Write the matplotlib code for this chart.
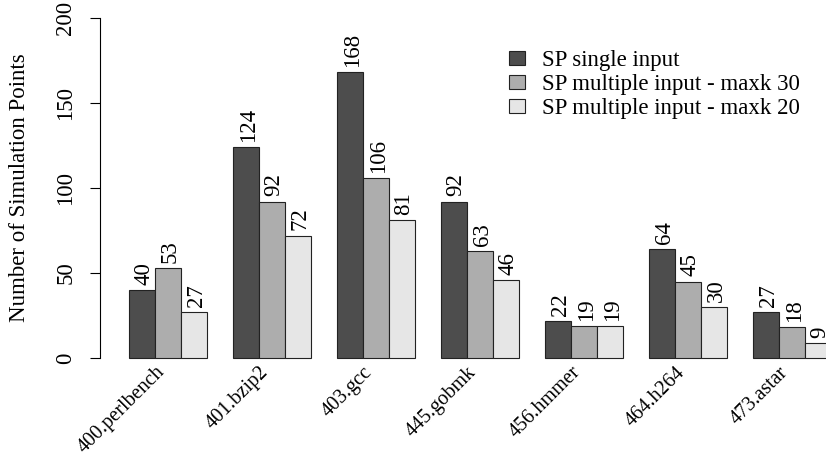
import numpy as np
import matplotlib
matplotlib.use("Agg")
import matplotlib.pyplot as plt

plt.rcParams['font.family'] = ['Liberation Serif', 'DejaVu Serif']

# data
benchmarks = ["400.perlbench", "401.bzip2", "403.gcc", "445.gobmk",
              "456.hmmer", "464.h264", "473.astar"]
series_names = ["SP single input", "SP multiple input - maxk 30",
                "SP multiple input - maxk 20"]
sp_single = [40, 124, 168, 92, 22, 64, 27]
sp_maxk30 = [53, 92, 106, 63, 19, 45, 18]
sp_maxk20 = [27, 72, 81, 46, 19, 30, 9]
colors = ["#4d4d4d", "#adadad", "#e6e6e6"]

FS = 16.5
W, H = 826, 459
fig = plt.figure(figsize=(W / 100, H / 100), dpi=100)
# axes placed in pixels: y-axis at x=100, y=0 at 358px, y=200 at 18px
ax = fig.add_axes([100 / W, (H - 358) / H, (W - 100) / W, 340 / H])

# R-style beside barplot: each bar 1 unit wide, 1 unit gap between groups
n = len(benchmarks)
group_left = 1 + 4 * np.arange(n)
for j, vals in enumerate([sp_single, sp_maxk30, sp_maxk20]):
    xs = group_left + j
    ax.bar(xs, vals, width=1, align='edge', color=colors[j],
           edgecolor='#222222', linewidth=0.8, label=series_names[j],
           clip_on=False)
    for x, v in zip(xs, vals):
        ax.text(x + 0.58, v + 3, str(v), rotation=90, ha='center',
                va='bottom', fontsize=FS, clip_on=False)

ax.set_xlim(-3 / 26, (W - 103) / 26)
ax.set_ylim(0, 200)

for s in ['top', 'right', 'bottom']:
    ax.spines[s].set_visible(False)
ax.spines['left'].set_linewidth(0.8)

ax.set_yticks([0, 50, 100, 150, 200])
ax.tick_params(axis='y', length=7, width=0.8, pad=10, labelsize=FS)
for lab in ax.get_yticklabels():
    lab.set_rotation(90)
    lab.set_va('center')

# rotated group names, right end just under the group centre
ax.set_xticks(group_left + 1.5 - 0.5)
ax.set_xticklabels(benchmarks, rotation=45, ha='right',
                   rotation_mode='anchor', fontsize=14.5)
ax.tick_params(axis='x', length=0, pad=3.5)

fig.text(20 / W, 0.5 * ((H - 358) + (H - 18)) / H, "Number of Simulation Points",
         rotation=90, ha='center', va='center', fontsize=FS)

ax.legend(loc='upper left', bbox_to_anchor=(509 / W, 1 - 50 / H),
          bbox_transform=fig.transFigure, frameon=False, fontsize=FS,
          handlelength=0.7, handleheight=0.55, handletextpad=0.75,
          labelspacing=0.13, borderpad=0, borderaxespad=0)

fig.savefig("out.png", dpi=100)
